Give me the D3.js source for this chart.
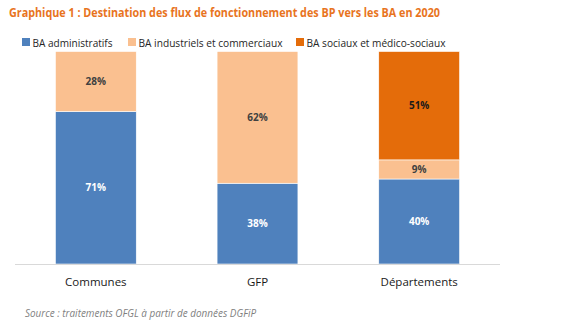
<!DOCTYPE html>
<html>
<head>
<meta charset="utf-8">
<script src="https://cdn.jsdelivr.net/npm/d3@7"></script>
<style>
  body { margin: 0; background: #fff; }
  text { font-family: 'Open Sans', 'Noto Sans', sans-serif; }
</style>
</head>
<body>
<div id="chart"></div>
<script>
let categories = ['Communes', 'GFP', 'Départements']
let series = ['BA administratifs', 'BA industriels et commerciaux', 'BA sociaux et médico-sociaux']
let administratifs = [71, 38, 40]
let industriels = [28, 62, 9]
let sociaux = [0, 0, 51]

let colors = ['#4F81BD', '#FAC090', '#E46C0A']
let labelColors = ['#ffffff', '#404040', '#1a1a1a']

let width = 580
let height = 330
let margin = { top: 51.5, left: 15, right: 80, bottom: 66 }

let svg = d3.select('#chart')
  .append('svg')
  .attr('width', width)
  .attr('height', height)

let rows = categories.map((c, i) => ({
  cat: c,
  [series[0]]: administratifs[i],
  [series[1]]: industriels[i],
  [series[2]]: sociaux[i]
}))

let stacked = d3.stack()
  .keys(series)
  .offset(d3.stackOffsetExpand)(rows)

let xScale = d3.scaleBand()
  .domain(categories)
  .range([margin.left, width - margin.right])
  .paddingInner(0.5)
  .paddingOuter(0.25)

let yScale = d3.scaleLinear()
  .domain([0, 1])
  .range([height - margin.bottom, margin.top])

// title
svg.append('text')
  .text('Graphique 1 : Destination des flux de fonctionnement des BP vers les BA en 2020')
  .attr('x', 9)
  .attr('y', 16.5)
  .attr('font-size', 13)
  .attr('font-weight', 700)
  .attr('fill', '#E8741E')
  .attr('textLength', 431)
  .attr('lengthAdjust', 'spacingAndGlyphs')

// legend
let legendX = [22, 128, 296]
let legendW = [80, 144, 139]
let legend = svg.selectAll('.legend')
  .data(series)
  .enter()
  .append('g')
  .attr('transform', (d, i) => `translate(${legendX[i]}, 38)`)

legend.append('rect')
  .attr('width', 8)
  .attr('height', 8)
  .attr('fill', (d, i) => colors[i])

legend.append('text')
  .text(d => d)
  .attr('x', 10.5)
  .attr('y', 8.5)
  .attr('font-size', 11.5)
  .attr('fill', '#262626')
  .attr('textLength', (d, i) => legendW[i])
  .attr('lengthAdjust', 'spacingAndGlyphs')

// bars
let layers = svg.selectAll('.layer')
  .data(stacked)
  .enter()
  .append('g')
  .attr('fill', (d, i) => colors[i])

layers.selectAll('rect')
  .data(d => d)
  .enter()
  .append('rect')
  .attr('x', d => xScale(d.data.cat))
  .attr('width', xScale.bandwidth())
  .attr('y', d => yScale(d[1]))
  .attr('height', d => yScale(d[0]) - yScale(d[1]))
  .attr('stroke', '#fff')
  .attr('stroke-width', 0.6)

// axis line
svg.append('line')
  .attr('x1', margin.left)
  .attr('x2', width - margin.right)
  .attr('y1', yScale(0) + 0.5)
  .attr('y2', yScale(0) + 0.5)
  .attr('stroke', '#D9D9D9')
  .attr('stroke-width', 1)

// value labels
layers.each(function(layer, li) {
  d3.select(this)
    .selectAll('text')
    .data(layer.filter((d, i) => [administratifs, industriels, sociaux][li][i] > 0))
    .enter()
    .append('text')
    .text(d => d.data[layer.key] + '%')
    .attr('x', d => xScale(d.data.cat) + xScale.bandwidth() / 2)
    .attr('y', d => (yScale(d[0]) + yScale(d[1])) / 2 + 3.5)
    .attr('text-anchor', 'middle')
    .attr('font-size', 10)
    .attr('font-weight', 700)
    .attr('fill', labelColors[li])
})

// category labels
svg.selectAll('.cat')
  .data(categories)
  .enter()
  .append('text')
  .text(d => d)
  .attr('x', d => xScale(d) + xScale.bandwidth() / 2)
  .attr('y', 286)
  .attr('text-anchor', 'middle')
  .attr('font-size', 11.5)
  .attr('fill', '#1a1a1a')

// source
svg.append('text')
  .text('Source : traitements OFGL à partir de données DGFiP')
  .attr('x', 25)
  .attr('y', 317)
  .attr('font-size', 10)
  .attr('font-style', 'italic')
  .attr('fill', '#7F7F7F')
  .attr('textLength', 231)
  .attr('lengthAdjust', 'spacingAndGlyphs')
</script>
</body>
</html>
